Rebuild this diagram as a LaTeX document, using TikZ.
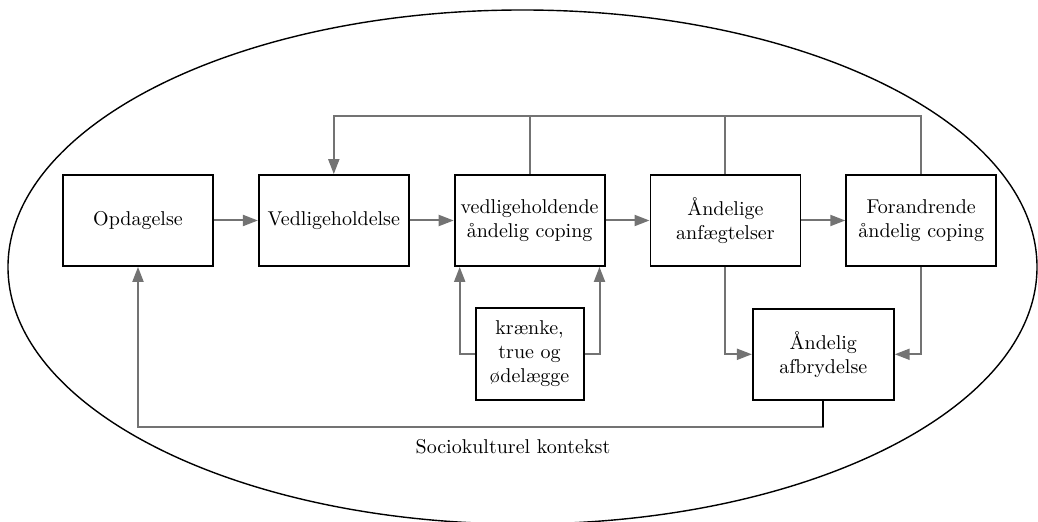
\documentclass[tikz,border=0pt]{standalone}
\usepackage{tikz}
\usetikzlibrary{arrows.meta, positioning, calc}
\tikzset{
boks/.style={
    rectangle,
    draw=black,
    line width=0.9pt,
    minimum width=75pt,
    minimum height=45.5pt,
    inner xsep=0.5pt,
    align=center,
    font=\normalsize
},
linje/.style={
    draw=black!55,
    line width=1pt
}}

\begin{document}
\begin{tikzpicture}[
        >={Triangle[length=7.5pt, width=5.5pt]},
        node distance=20pt and 22pt
    ]
    \useasboundingbox (0,0) rectangle (519pt,-261pt);

    % context
    \draw[line width=0.7pt] (261.25pt,-133.5pt) ellipse [x radius=257.25pt, y radius=128.5pt];

    % node placement
    \node[boks] (opd) at (69pt,-110.25pt) {Opdagelse};
    \node[boks, right=of opd] (ved) {Vedligeholdelse};
    \node[boks, right=of ved] (vhc) {vedligeholdende\\åndelig coping};
    \node[boks, right=of vhc] (anf) {Åndelige\\anfægtelser};
    \node[boks, right=of anf] (for) {Forandrende\\åndelig coping};

    \node[boks, below=of vhc, minimum width=54pt, minimum height=46pt] (kr) {krænke,\\true og\\ødelægge};
    \coordinate (midt) at ($(anf.south)!0.5!(for.south)$);
    \node[boks, below=20.5pt of midt, minimum width=70.5pt] (afb) {Åndelig\\afbrydelse};

    \node (kontekst) at (256.5pt,-223.5pt) {Sociokulturel kontekst};

    % edges
    \draw[linje, ->] (opd) -- (ved);
    \draw[linje, ->] (ved) -- (vhc);
    \draw[linje, ->] (vhc) -- (anf);
    \draw[linje, ->] (anf) -- (for);

    \draw[linje, ->] (for.north) -- ++(0,29pt) -| (ved.north);
    \draw[linje] (vhc.north) -- ++(0,29pt);
    \draw[linje] (anf.north) -- ++(0,29pt);

    \draw[linje, ->] (kr.west) -| ([xshift=3pt]vhc.south west);
    \draw[linje, ->] (kr.east) -| ([xshift=-3pt]vhc.south east);

    \draw[linje, ->] (anf.south) |- (afb.west);
    \draw[linje, ->] (for.south) |- (afb.east);

    \draw[linje, ->] (afb.south) -- ++(0,-13pt) -| (opd.south);
    \draw[line width=1pt] (afb.south) -- ++(0,-13pt);

    \end{tikzpicture}
\end{document}
